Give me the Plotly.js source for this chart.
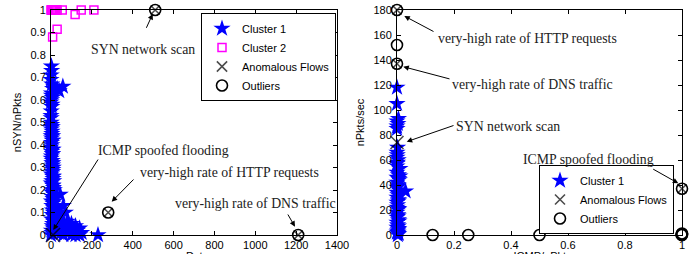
<!DOCTYPE html>
<html>
<head>
<meta charset="utf-8">
<script src="https://cdn.plot.ly/plotly-3.0.1.min.js"></script>
<style>html,body{margin:0;padding:0;background:#fff;overflow:hidden;}#chart{width:692px;height:262px;}</style>
</head>
<body>
<div id="chart"></div>
<script>
// ---------- Left panel data (nDsts vs nSYN/nPkts) ----------
const leftC1X = [2,3,1,0,4,12,8,40,2,6,3,5,4,1,1,3,0,2,5,4,1,3,6,2,4,0,5,3,7,2,1,6,4,8,3,9,5,2,7,10,4,1,8,12,5,3,14,6,10,2,9,4,13,7,11,5,15,3,12,8,6,10,2,4,0,
  8,10,9,12,16,18,20,22,18,30,58,
  6,9,7,11,8,13,10,14,12,16,15,19,17,21,0,1,0,2,
  45,60,70,30,50,35,80,100,60,120,90,140,70,110,130,50,150,85,140,60,100,120,30,230,25,40,20,65,95,125,45,75];
const leftC1Y = [0.75,0.73,0.71,0.69,0.67,0.66,0.65,0.64,0.62,0.61,0.60,0.58,0.57,0.55,0.50,0.49,0.48,0.47,0.46,0.45,0.44,0.43,0.42,0.41,0.40,0.39,0.38,0.37,0.36,0.35,0.34,0.33,0.32,0.31,0.30,0.29,0.28,0.27,0.26,0.25,0.24,0.23,0.22,0.21,0.20,0.19,0.18,0.17,0.16,0.15,0.14,0.13,0.12,0.11,0.10,0.09,0.08,0.07,0.06,0.05,0.04,0.03,0.02,0.01,0.00,
  0.44,0.38,0.32,0.26,0.20,0.15,0.10,0.06,0.03,0.65,0.66,
  0.48,0.42,0.36,0.30,0.28,0.24,0.22,0.18,0.16,0.12,0.09,0.07,0.05,0.02,0.53,0.52,0.59,0.63,
  0.18,0.13,0.10,0.12,0.09,0.07,0.06,0.05,0.05,0.04,0.04,0.03,0.03,0.02,0.02,0.01,0.01,0.01,0.00,0.00,0.00,0.00,0.03,0.00,0.01,0.02,0.04,0.02,0.03,0.01,0.05,0.04];
const leftC2X = [0,2,4,6,8,10,12,15,18,22,25,30,55,118,148,210,8,30];
const leftC2Y = [1,1,1,1,1,1,1,1,1,1,1,1,1,0.98,1,1,0.88,0.915];
const leftAnomX = [510,280,1210,10];
const leftAnomY = [1,0.1,0,0];
const leftAnomSize = [9,9,9,14];
const leftOutX = [510,280,1210];
const leftOutY = [1,0.1,0];

// ---------- Right panel data (nICMP/nPkts vs nPkts/sec) ----------
const rightC1X = [0,0,0.005,0,0.003,0,0,0.002,0,0,0.004,0,0,0.01,0,0.005,0,0.008,0,0.004,0,0.006,0,0.003,0,0.005,0,0.002,0,0.004,0,0.003,0,0.005,0,0.002,0,0.004,0,0.003,0.006,0.002,0.03,0.01,
  0.006,0.004,0.007,0.005,0.006,0.004,0.007,0.005,0.006,0.004,0.002,0.001];
const rightC1Y = [118,105,93,91,89,87,85,70,66,62,60,57,55,53,50,48,46,44,42,40,38,36,34,32,30,28,26,24,22,20,18,16,14,12,10,8,6,4,2,0,1,3,35,47,
  45,39,33,27,21,15,11,7,5,2,58,64];
const rightAnomX = [0,0,0,1];
const rightAnomY = [180,137,74,37];
const rightAnomSize = [9,9,13,9];
const rightOutX = [0,0,0,0.125,0.25,0.5,1,1,1,0.998,1];
const rightOutY = [180,152,137,0,0,0,37,0,0.6,0.3,1.2];

const leftXTicks = [0,200,400,600,800,1000,1200,1400];
const leftYTicks = [0,0.1,0.2,0.3,0.4,0.5,0.6,0.7,0.8,0.9,1];
const rightXTicks = [0,0.2,0.4,0.6,0.8,1];
const rightYTicks = [0,20,40,60,80,100,120,140,160,180];

const W = 692, H = 254, EXTRA = 8;   // visible window is 254 tall; the x titles sit partly below it, as in the reference
const px = v => v / W;
const py = v => 1 - v / H;

const starM = {symbol:'star', color:'#0000ff', size:13, line:{width:0}};
const sqM = {symbol:'square-open', color:'#ff00ff', size:8, line:{width:1.5, color:'#ff00ff'}};
const xM = s => ({symbol:'x-thin-open', color:'#000', size:s, line:{width:1.6, color:'#000'}});
const oM = {symbol:'circle-open', color:'#000', size:11, line:{width:1.6, color:'#000'}};

const traces = [
  {x:leftC1X, y:leftC1Y, type:'scatter', mode:'markers', name:'Cluster 1', marker:starM, xaxis:'x', yaxis:'y', legend:'legend', cliponaxis:false},
  {x:leftC2X, y:leftC2Y, type:'scatter', mode:'markers', name:'Cluster 2', marker:sqM, xaxis:'x', yaxis:'y', legend:'legend', cliponaxis:false},
  {x:leftAnomX, y:leftAnomY, type:'scatter', mode:'markers', name:'Anomalous Flows', marker:xM(leftAnomSize), xaxis:'x', yaxis:'y', legend:'legend', cliponaxis:false},
  {x:leftOutX, y:leftOutY, type:'scatter', mode:'markers', name:'Outliers', marker:oM, xaxis:'x', yaxis:'y', legend:'legend', cliponaxis:false},
  {x:rightC1X, y:rightC1Y, type:'scatter', mode:'markers', name:'Cluster 1', marker:starM, xaxis:'x2', yaxis:'y2', legend:'legend2', cliponaxis:false},
  {x:rightAnomX, y:rightAnomY, type:'scatter', mode:'markers', name:'Anomalous Flows', marker:xM(rightAnomSize), xaxis:'x2', yaxis:'y2', legend:'legend2', cliponaxis:false},
  {x:rightOutX, y:rightOutY, type:'scatter', mode:'markers', name:'Outliers', marker:oM, xaxis:'x2', yaxis:'y2', legend:'legend2', cliponaxis:false}
];

const tickFont = {family:'"Liberation Sans", Arial, sans-serif', size:11, color:'#000'};
const axBase = {showgrid:false, zeroline:false, showline:true, linecolor:'#000', linewidth:1, mirror:'ticks',
  ticks:'inside', ticklen:4, tickcolor:'#000', tickfont:tickFont, fixedrange:true, automargin:false};

const annFont = {family:'"Liberation Serif", "Times New Roman", serif', size:13.8, color:'#222'};
function label(text, cx, cy) {
  return {text:text, xref:'paper', yref:'paper', x:px(cx), y:py(cy), xanchor:'center', yanchor:'middle', showarrow:false, font:annFont};
}
function arrow(tx, ty, hx, hy) {
  return {text:'', xref:'paper', yref:'paper', x:px(hx), y:py(hy), ax:tx-hx, ay:ty-hy, showarrow:true,
    arrowhead:2, arrowsize:1.1, arrowwidth:1, arrowcolor:'#000', standoff:0, startstandoff:0};
}

const layout = {
  width:W, height:H+EXTRA, margin:{l:0, r:0, t:0, b:EXTRA}, paper_bgcolor:'#fff', plot_bgcolor:'#fff',
  showlegend:true,
  xaxis: Object.assign({}, axBase, {domain:[px(51), px(337)], range:[0,1400], tickvals:leftXTicks, anchor:'y',
    title:{text:'nDsts', font:tickFont, standoff:10}}),
  yaxis: Object.assign({}, axBase, {domain:[1-235/H, 1-10/H], range:[0,1], tickvals:leftYTicks, anchor:'x', ticklabelstandoff:2,
    title:{text:'nSYN/nPkts', font:tickFont, standoff:6}}),
  xaxis2: Object.assign({}, axBase, {domain:[px(397), px(682)], range:[0,1], tickvals:rightXTicks, anchor:'y2',
    title:{text:'nICMP/nPkts', font:tickFont, standoff:10}}),
  yaxis2: Object.assign({}, axBase, {domain:[1-235/H, 1-10/H], range:[0,180], tickvals:rightYTicks, anchor:'x2', ticklabelstandoff:2,
    title:{text:'nPkts/sec', font:tickFont, standoff:6}}),
  legend: {x:px(201), y:py(13), xanchor:'left', yanchor:'top', bgcolor:'#fff', bordercolor:'#000', borderwidth:1,
    font:tickFont, tracegroupgap:0, itemclick:false},
  legend2: {x:px(539), y:py(234), xanchor:'left', yanchor:'bottom', bgcolor:'#fff', bordercolor:'#000', borderwidth:1,
    font:tickFont, tracegroupgap:0, itemclick:false},
  annotations: [
    label('SYN network scan', 142.5, 50),
    arrow(145.7, 29.3, 152.7, 14),
    label('ICMP spoofed flooding', 163.3, 150),
    arrow(99, 158, 53.3, 230),
    label('very-high rate of HTTP requests', 229, 172.3),
    arrow(135, 178, 111.7, 201.7),
    label('very-high rate of DNS traffic', 255, 203.3),
    arrow(287, 213, 295, 226.7),
    label('very-high rate of HTTP requests', 527.5, 38.3),
    arrow(435, 32.3, 404.3, 16),
    label('very-high rate of DNS traffic', 532.5, 84),
    arrow(451, 79.3, 403.3, 66.7),
    label('SYN network scan', 507.5, 126),
    arrow(455, 125, 406.7, 141.7),
    label('ICMP spoofed flooding', 588.3, 159),
    arrow(651.7, 168.3, 678.3, 183.3)
  ]
};

Plotly.newPlot('chart', traces, layout, {displayModeBar:false, staticPlot:true});
</script>
</body>
</html>
